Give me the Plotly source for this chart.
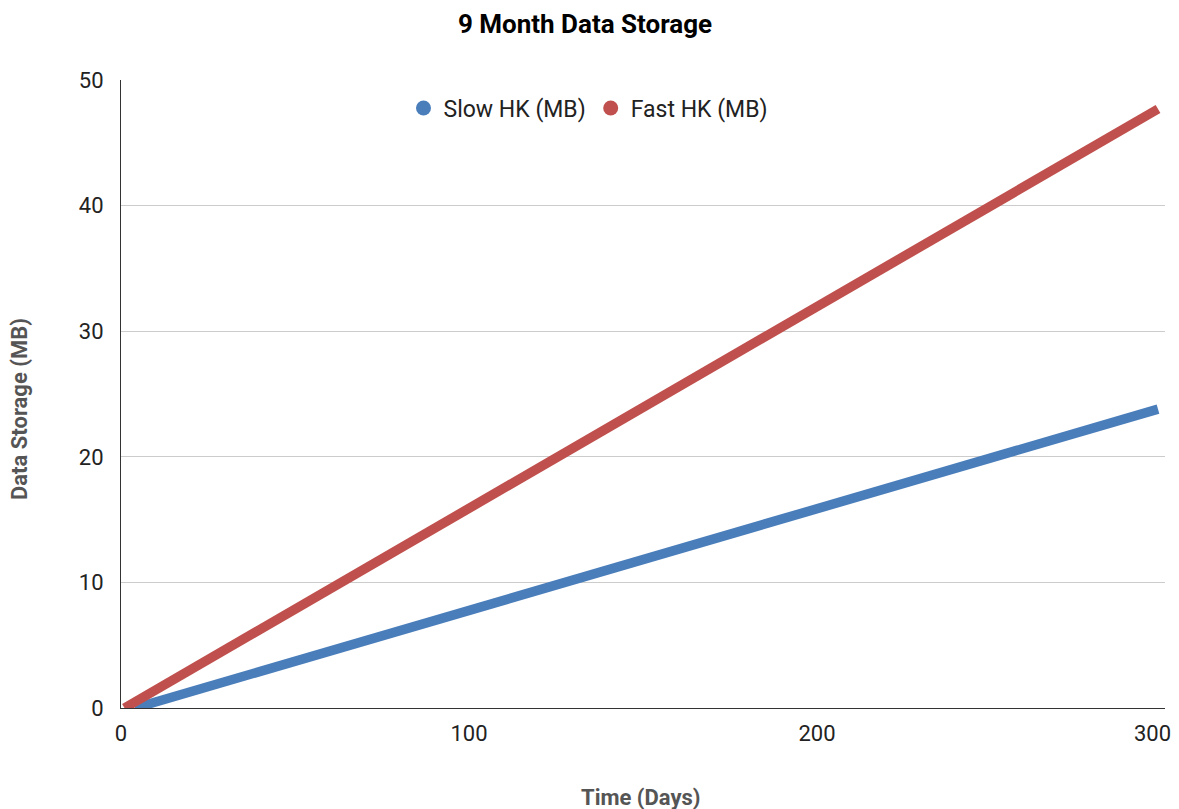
import plotly.graph_objects as go

slow_days = [4, 100, 200, 298]
slow_mb = [0.0, 7.8, 15.9, 23.8]
fast_days = [1, 100, 200, 298]
fast_mb = [0.0, 15.9, 31.9, 47.7]
x_ticks = [0, 100, 200, 300]
y_ticks = [0, 10, 20, 30, 40, 50]

blue = "#4a7ebb"
red = "#c0504d"

# the page has an 8px body margin; size the figure to fit the window
W, H = 1171, 801
L, R, T, B = 113, 14, 72, 101
pw, ph = W - L - R, H - T - B

fig = go.Figure()
fig.add_trace(go.Scatter(x=slow_days, y=slow_mb, mode="lines", name="Slow HK (MB)",
                         line=dict(color=blue, width=9.5), cliponaxis=False, showlegend=False))
fig.add_trace(go.Scatter(x=fast_days, y=fast_mb, mode="lines", name="Fast HK (MB)",
                         line=dict(color=red, width=9.5), cliponaxis=False, showlegend=False))
# legend entries with circle symbols
fig.add_trace(go.Scatter(x=[None], y=[None], mode="markers", name="Slow HK (MB)",
                         marker=dict(color=blue, size=15, symbol="circle")))
fig.add_trace(go.Scatter(x=[None], y=[None], mode="markers", name="Fast HK (MB)",
                         marker=dict(color=red, size=15, symbol="circle")))

fig.update_layout(
    width=W, height=H,
    margin=dict(l=L, r=R, t=T, b=B, autoexpand=False),
    paper_bgcolor="white", plot_bgcolor="white",
    font=dict(family="Roboto", size=22, color="#222222"),
    title=dict(text="<b>9 Month Data Storage</b>", x=(585 - 8) / W, xanchor="center",
               y=1 - 16 / H, yanchor="middle", font=dict(size=26, color="#000000")),
    legend=dict(orientation="h", x=(588 - 121) / pw, xanchor="center",
                y=1 - (108 - 80) / ph, yanchor="middle",
                font=dict(size=23, color="#222222"), itemwidth=30,
                bgcolor="rgba(0,0,0,0)"),
    showlegend=True,
    annotations=[
        dict(text="<b>Time (Days)</b>", xref="paper", yref="paper", x=(641 - 121) / pw,
             y=-(797 - 708) / ph, xanchor="center", yanchor="middle", showarrow=False,
             font=dict(size=22, color="#555555")),
        dict(text="<b>Data Storage (MB)</b>", xref="paper", yref="paper", x=-(121 - 20) / pw,
             y=(708 - 409) / ph, xanchor="center", yanchor="middle", showarrow=False,
             textangle=-90, font=dict(size=22, color="#555555")),
        dict(text=str(x_ticks[-1]), xref="x", yref="paper", x=x_ticks[-1], xshift=-12,
             y=-(733 - 708) / ph, xanchor="center", yanchor="middle", showarrow=False,
             font=dict(size=22, color="#222222")),
    ],
)
fig.update_xaxes(range=[0, 300.01], tickvals=x_ticks,
                 ticktext=[str(v) for v in x_ticks[:-1]] + [""], showgrid=False,
                 showline=True, linecolor="#333333", linewidth=1, zeroline=False,
                 ticks="", tickfont=dict(size=22), automargin=False, ticklabelstandoff=6)
fig.update_yaxes(range=[0, 50.01], tickvals=y_ticks, showgrid=True,
                 gridcolor="#cccccc", gridwidth=1, showline=True, linecolor="#333333",
                 linewidth=1, zeroline=False, ticks="", ticklabelstandoff=12,
                 tickfont=dict(size=22), automargin=False)
fig.write_html("out.html")
